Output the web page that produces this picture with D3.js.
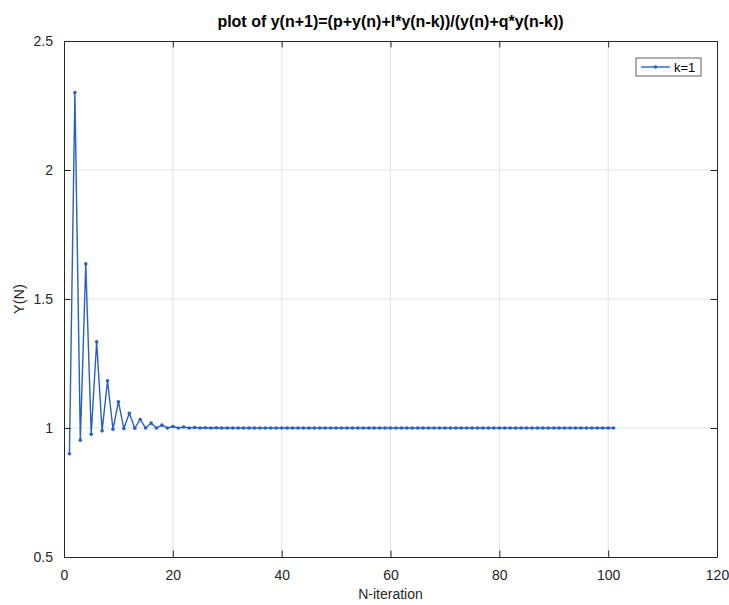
<!DOCTYPE html>
<html>
<head>
<meta charset="utf-8">
<script src="https://cdn.jsdelivr.net/npm/d3@7"></script>
<style>
  body { margin: 0; background: #fff; }
  svg { display: block; font-family: 'Liberation Sans', Arial, sans-serif; }
</style>
</head>
<body>
<div id="chart"></div>
<script>
// Chart values
const chartTitle = 'plot of y(n+1)=(p+y(n)+l*y(n-k))/(y(n)+q*y(n-k))';
const xLabel = 'N-iteration';
const yLabel = 'Y(N)';
const seriesName = 'k=1';

const xTicks = [0, 20, 40, 60, 80, 100, 120];
const yTicks = [0.5, 1, 1.5, 2, 2.5];

const iterations = [
  1, 2, 3, 4, 5, 6, 7, 8, 9, 10,
  11, 12, 13, 14, 15, 16, 17, 18, 19, 20,
  21, 22, 23, 24, 25, 26, 27, 28, 29, 30,
  31, 32, 33, 34, 35, 36, 37, 38, 39, 40,
  41, 42, 43, 44, 45, 46, 47, 48, 49, 50,
  51, 52, 53, 54, 55, 56, 57, 58, 59, 60,
  61, 62, 63, 64, 65, 66, 67, 68, 69, 70,
  71, 72, 73, 74, 75, 76, 77, 78, 79, 80,
  81, 82, 83, 84, 85, 86, 87, 88, 89, 90,
  91, 92, 93, 94, 95, 96, 97, 98, 99, 100,
  101
];

const yValues = [
  0.9, 2.3, 0.953, 1.636, 0.976, 1.334, 0.989, 1.183, 0.995, 1.102,
  0.998, 1.057, 0.999, 1.033, 1.0, 1.019, 1.0, 1.011, 1.0, 1.006,
  1.0, 1.004, 1.0, 1.002, 1.0, 1.001, 1.0, 1.001, 1.0, 1.0,
  1.0, 1.0, 1.0, 1.0, 1.0, 1.0, 1.0, 1.0, 1.0, 1.0,
  1.0, 1.0, 1.0, 1.0, 1.0, 1.0, 1.0, 1.0, 1.0, 1.0,
  1.0, 1.0, 1.0, 1.0, 1.0, 1.0, 1.0, 1.0, 1.0, 1.0,
  1.0, 1.0, 1.0, 1.0, 1.0, 1.0, 1.0, 1.0, 1.0, 1.0,
  1.0, 1.0, 1.0, 1.0, 1.0, 1.0, 1.0, 1.0, 1.0, 1.0,
  1.0, 1.0, 1.0, 1.0, 1.0, 1.0, 1.0, 1.0, 1.0, 1.0,
  1.0, 1.0, 1.0, 1.0, 1.0, 1.0, 1.0, 1.0, 1.0, 1.0,
  1.0
];

class IterationPlot {
  constructor() {
    this.width = 729;
    this.height = 605;
    this.margin = { top: 41, right: 12, bottom: 48, left: 64 };
    this.lineColor = '#2760c8';
    this.axisColor = '#262626';
    this.gridColor = '#e3e3e3';
    this.points = iterations.map((n, i) => ({ n, y: yValues[i] }));
  }

  // Build scales from the tick ranges
  createScales() {
    const m = this.margin;
    this.innerW = this.width - m.left - m.right;
    this.innerH = this.height - m.top - m.bottom;
    this.x = d3.scaleLinear().domain([xTicks[0], xTicks[xTicks.length - 1]]).range([0, this.innerW]);
    this.y = d3.scaleLinear().domain([yTicks[0], yTicks[yTicks.length - 1]]).range([this.innerH, 0]);
  }

  createSVG() {
    this.svg = d3.select('#chart')
      .append('svg')
      .attr('width', this.width)
      .attr('height', this.height);

    this.plot = this.svg.append('g')
      .attr('transform', `translate(${this.margin.left}, ${this.margin.top})`);
  }

  // Grid lines behind the data
  drawGrid() {
    const grid = this.plot.append('g').attr('class', 'grid');

    grid.selectAll('.vgrid')
      .data(xTicks.slice(1, -1))
      .enter()
      .append('line')
      .attr('x1', d => this.x(d)).attr('x2', d => this.x(d))
      .attr('y1', 0).attr('y2', this.innerH)
      .style('stroke', this.gridColor);

    grid.selectAll('.hgrid')
      .data(yTicks.slice(1, -1))
      .enter()
      .append('line')
      .attr('x1', 0).attr('x2', this.innerW)
      .attr('y1', d => this.y(d)).attr('y2', d => this.y(d))
      .style('stroke', this.gridColor);
  }

  // MATLAB style box with inward ticks on all four sides
  drawAxes() {
    const tickLen = 6.5;
    const fmt = d => String(d);

    const bottom = this.plot.append('g')
      .attr('transform', `translate(0, ${this.innerH})`)
      .call(d3.axisBottom(this.x).tickValues(xTicks).tickFormat(fmt).tickSizeInner(-tickLen).tickSizeOuter(0).tickPadding(13));
    const top = this.plot.append('g')
      .call(d3.axisTop(this.x).tickValues(xTicks).tickFormat('').tickSizeInner(-tickLen).tickSizeOuter(0));
    const left = this.plot.append('g')
      .call(d3.axisLeft(this.y).tickValues(yTicks).tickFormat(fmt).tickSizeInner(-tickLen).tickSizeOuter(0).tickPadding(11));
    const right = this.plot.append('g')
      .attr('transform', `translate(${this.innerW}, 0)`)
      .call(d3.axisRight(this.y).tickValues(yTicks).tickFormat('').tickSizeInner(-tickLen).tickSizeOuter(0));

    [bottom, top, left, right].forEach(g => {
      g.select('.domain').style('stroke', this.axisColor).style('stroke-width', 1);
      g.selectAll('.tick line').style('stroke', this.axisColor);
      g.selectAll('.tick text')
        .style('fill', this.axisColor)
        .style('font-size', '14px');
    });

    this.svg.append('text')
      .attr('x', this.margin.left + this.innerW / 2)
      .attr('y', 599)
      .attr('text-anchor', 'middle')
      .style('font-size', '14px')
      .style('fill', this.axisColor)
      .text(xLabel);

    this.svg.append('text')
      .attr('transform', `translate(24, ${this.margin.top + this.innerH / 2}) rotate(-90)`)
      .attr('text-anchor', 'middle')
      .style('font-size', '14.5px')
      .style('fill', this.axisColor)
      .text(yLabel);

    this.svg.append('text')
      .attr('x', this.margin.left + this.innerW / 2)
      .attr('y', 27)
      .attr('text-anchor', 'middle')
      .style('font-size', '16px')
      .style('font-weight', 'bold')
      .style('fill', '#000')
      .text(chartTitle);
  }

  drawSeries() {
    const line = d3.line()
      .x(d => this.x(d.n))
      .y(d => this.y(d.y));

    this.plot.append('path')
      .datum(this.points)
      .attr('d', line)
      .style('fill', 'none')
      .style('stroke', this.lineColor)
      .style('stroke-width', 1.4);

    this.plot.selectAll('.marker')
      .data(this.points)
      .enter()
      .append('circle')
      .attr('class', 'marker')
      .attr('cx', d => this.x(d.n))
      .attr('cy', d => this.y(d.y))
      .attr('r', 1.8)
      .style('fill', this.lineColor);
  }

  drawLegend() {
    const lx = 636 - this.margin.left;
    const ly = 58 - this.margin.top;
    const legend = this.plot.append('g').attr('transform', `translate(${lx}, ${ly})`);

    legend.append('rect')
      .attr('width', 65).attr('height', 18)
      .style('fill', '#fff')
      .style('stroke', '#3a3a3a')
      .style('stroke-width', 0.8);

    legend.append('line')
      .attr('x1', 5).attr('x2', 34)
      .attr('y1', 9).attr('y2', 9)
      .style('stroke', this.lineColor)
      .style('stroke-width', 1.4);

    legend.append('circle')
      .attr('cx', 19.5).attr('cy', 9).attr('r', 1.8)
      .style('fill', this.lineColor);

    legend.append('text')
      .attr('x', 38).attr('y', 13.5)
      .style('font-size', '13px')
      .style('fill', '#000')
      .text(seriesName);
  }

  initialize() {
    this.createScales();
    this.createSVG();
    this.drawGrid();
    this.drawSeries();
    this.drawAxes();
    this.drawLegend();
  }
}

const iterationPlot = new IterationPlot();
iterationPlot.initialize();
</script>
</body>
</html>
